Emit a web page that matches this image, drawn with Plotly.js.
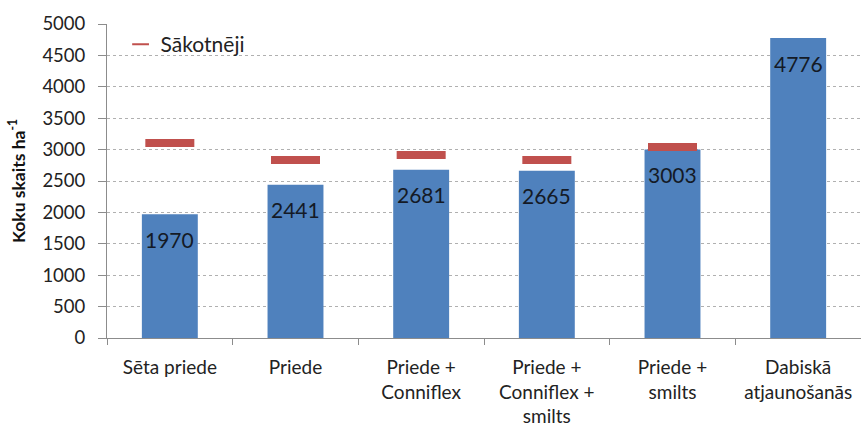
<!DOCTYPE html>
<html>
<head>
<meta charset="utf-8">
<script src="https://cdn.plot.ly/plotly-3.0.1.min.js"></script>
<style>html,body{margin:0;padding:0;background:#fff;}#chart{width:861px;height:434px;}</style>
</head>
<body>
<div id="chart"></div>
<script>
const categories = ['Sēta priede', 'Priede', 'Priede +<br>Conniflex', 'Priede +<br>Conniflex +<br>smilts', 'Priede +<br>smilts', 'Dabiskā<br>atjaunošanās'];
const currentValues = [1970, 2441, 2681, 2665, 3003, 4776];
const initialValues = [3105, 2834, 2914, 2834, 3041, null];
const initialName = 'Sākotnēji';
const yTitle = 'Koku skaits ha<sup>-1</sup>';
const yTicks = [0, 500, 1000, 1500, 2000, 2500, 3000, 3500, 4000, 4500, 5000];

const FONT = 'Lato, "Open Sans", sans-serif';

const traces = [
  {
    type: 'bar',
    x: categories,
    y: currentValues,
    marker: {color: '#4F81BD'},
    showlegend: false,
    hoverinfo: 'skip'
  },
  {
    type: 'scatter',
    mode: 'markers',
    name: initialName,
    x: categories,
    y: initialValues,
    marker: {symbol: 'line-ew', size: 35, color: '#C0504D', line: {color: '#C0504D', width: 8}},
    showlegend: true
  }
];

const annotations = categories.map((c, i) => ({
  x: c, y: currentValues[i], xref: 'x', yref: 'y',
  text: String(currentValues[i]), showarrow: false,
  yanchor: 'middle', yshift: -25,
  font: {family: FONT, size: 21, color: '#141a26'}
}));

const layout = {
  width: 861, height: 434,
  margin: {l: 107, r: 0, t: 24, b: 96},
  paper_bgcolor: '#ffffff', plot_bgcolor: '#ffffff',
  font: {family: FONT, size: 16, color: '#222'},
  bargap: 0.555,
  showlegend: true,
  legend: {x: 0.018, y: 1.0, xanchor: 'left', yanchor: 'top', bgcolor: 'rgba(0,0,0,0)',
           font: {family: FONT, size: 21, color: '#222'}, itemsizing: 'constant'},
  xaxis: {
    type: 'category',
    automargin: false,
    showline: true, linecolor: '#8c8c8c', linewidth: 1,
    ticks: 'outside', tickson: 'boundaries', ticklen: 6, tickcolor: '#8c8c8c',
    ticklabelstandoff: 12,
    showgrid: false, zeroline: false,
    tickfont: {family: FONT, size: 19, color: '#222'},
    fixedrange: true
  },
  yaxis: {
    range: [0, 5000],
    automargin: false,
    tickvals: yTicks,
    showline: true, linecolor: '#8c8c8c', linewidth: 1,
    ticks: 'outside', ticklen: 8, tickcolor: '#8c8c8c',
    ticklabelstandoff: 9,
    showgrid: true, gridcolor: '#b0b0b0', griddash: '3px,3px', gridwidth: 1,
    zeroline: false,
    tickfont: {family: FONT, size: 18.5, color: '#222'},
    title: {text: yTitle, font: {family: FONT, size: 17.5, color: '#111', weight: 'bold'}, standoff: 12},
    fixedrange: true
  },
  annotations: annotations
};

Plotly.newPlot('chart', traces, layout, {displayModeBar: false, staticPlot: true});
</script>
</body>
</html>
